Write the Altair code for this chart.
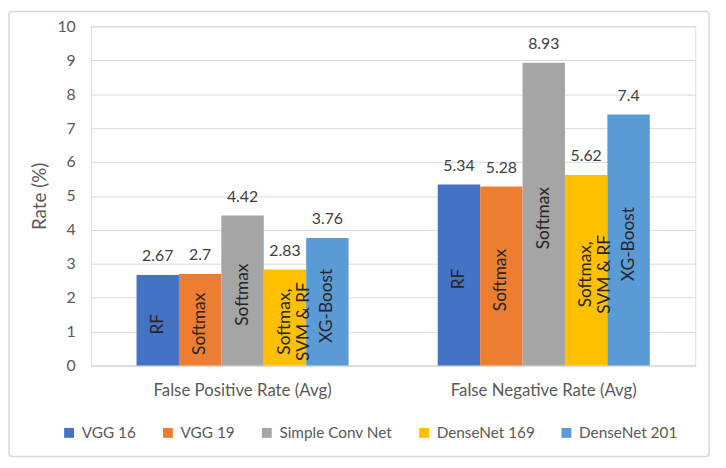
import altair as alt
import pandas as pd

categories = ["False Positive Rate (Avg)", "False Negative Rate (Avg)"]
models = ["VGG 16", "VGG 19", "Simple Conv Net", "DenseNet 169", "DenseNet 201"]
classifiers = ["RF", "Softmax", "Softmax", "Softmax,\nSVM & RF", "XG-Boost"]
fpr = [2.67, 2.7, 4.42, 2.83, 3.76]
fnr = [5.34, 5.28, 8.93, 5.62, 7.4]
colors = ["#4472C4", "#ED7D31", "#A5A5A5", "#FFC000", "#5B9BD5"]
y_ticks = list(range(0, 11))

rows = []
for cat, vals in zip(categories, [fpr, fnr]):
    for m, c, v in zip(models, classifiers, vals):
        rows.append({"category": cat, "model": m, "clf": c, "value": v, "label": f"{v:g}"})
df = pd.DataFrame(rows)

FONT = "Lato"
W, H = 611, 343

x = alt.X("category:N", sort=categories, title=None,
          scale=alt.Scale(paddingInner=0.296, paddingOuter=0.151),
          axis=alt.Axis(labelAngle=0, labelFontSize=17, labelColor="#595959",
                        labelPadding=17, labelLimit=400, ticks=False,
                        domainColor="#D9D9D9", labelFont=FONT))
xo = alt.XOffset("model:N", sort=models, scale=alt.Scale(paddingInner=0, paddingOuter=0))
y = alt.Y("value:Q", title="Rate (%)",
          scale=alt.Scale(domain=[0, 10], nice=False),
          axis=alt.Axis(values=y_ticks, tickCount=11, ticks=False, domain=False,
                        gridColor="#D9D9D9", labelOverlap=False,
                        labelFontSize=16, labelColor="#595959", labelPadding=16,
                        titleFontSize=19, titleColor="#595959", titleFontWeight="normal",
                        titlePadding=8, labelFont=FONT, titleFont=FONT))

base = alt.Chart(df).encode(x=x, xOffset=xo, y=y)

bars = base.mark_bar().encode(
    color=alt.Color("model:N", sort=models, scale=alt.Scale(domain=models, range=colors),
                    legend=alt.Legend(title=None, orient="none", direction="horizontal",
                                      legendX=-30, legendY=403, symbolType="square",
                                      symbolSize=100, symbolStrokeWidth=0, labelFontSize=15.5,
                                      labelColor="#595959", columnPadding=24, labelFont=FONT,
                                      labelOffset=5, symbolOpacity=1)),
)

top_labels = base.mark_text(baseline="bottom", dy=-11, fontSize=16, color="#404040",
                            font=FONT).encode(text="label:N")

inner = base.transform_calculate(value="datum.value / 2 - 0.12").mark_text(
    angle=270, align="center", baseline="middle", fontSize=17.5, color="#262626",
    font=FONT, lineBreak="\n", lineHeight=19).encode(text="clf:N")

frame = alt.Chart(pd.DataFrame({"f": [0]})).mark_rect(
    fill=None, stroke="#D9D9D9", strokeWidth=1.5, cornerRadius=3).encode(
    x=alt.value(-83), x2=alt.value(625), y=alt.value(-15), y2=alt.value(435))

chart = alt.layer(frame, bars, top_labels, inner).properties(
    width=W, height=H,
    autosize=alt.AutoSizeParams(type="none"),
    padding={"left": 84, "top": 16, "right": 23, "bottom": 93},
).configure_view(stroke=None).configure(background="white")

chart.save("out.html", embed_options={"renderer": "svg", "actions": False})
